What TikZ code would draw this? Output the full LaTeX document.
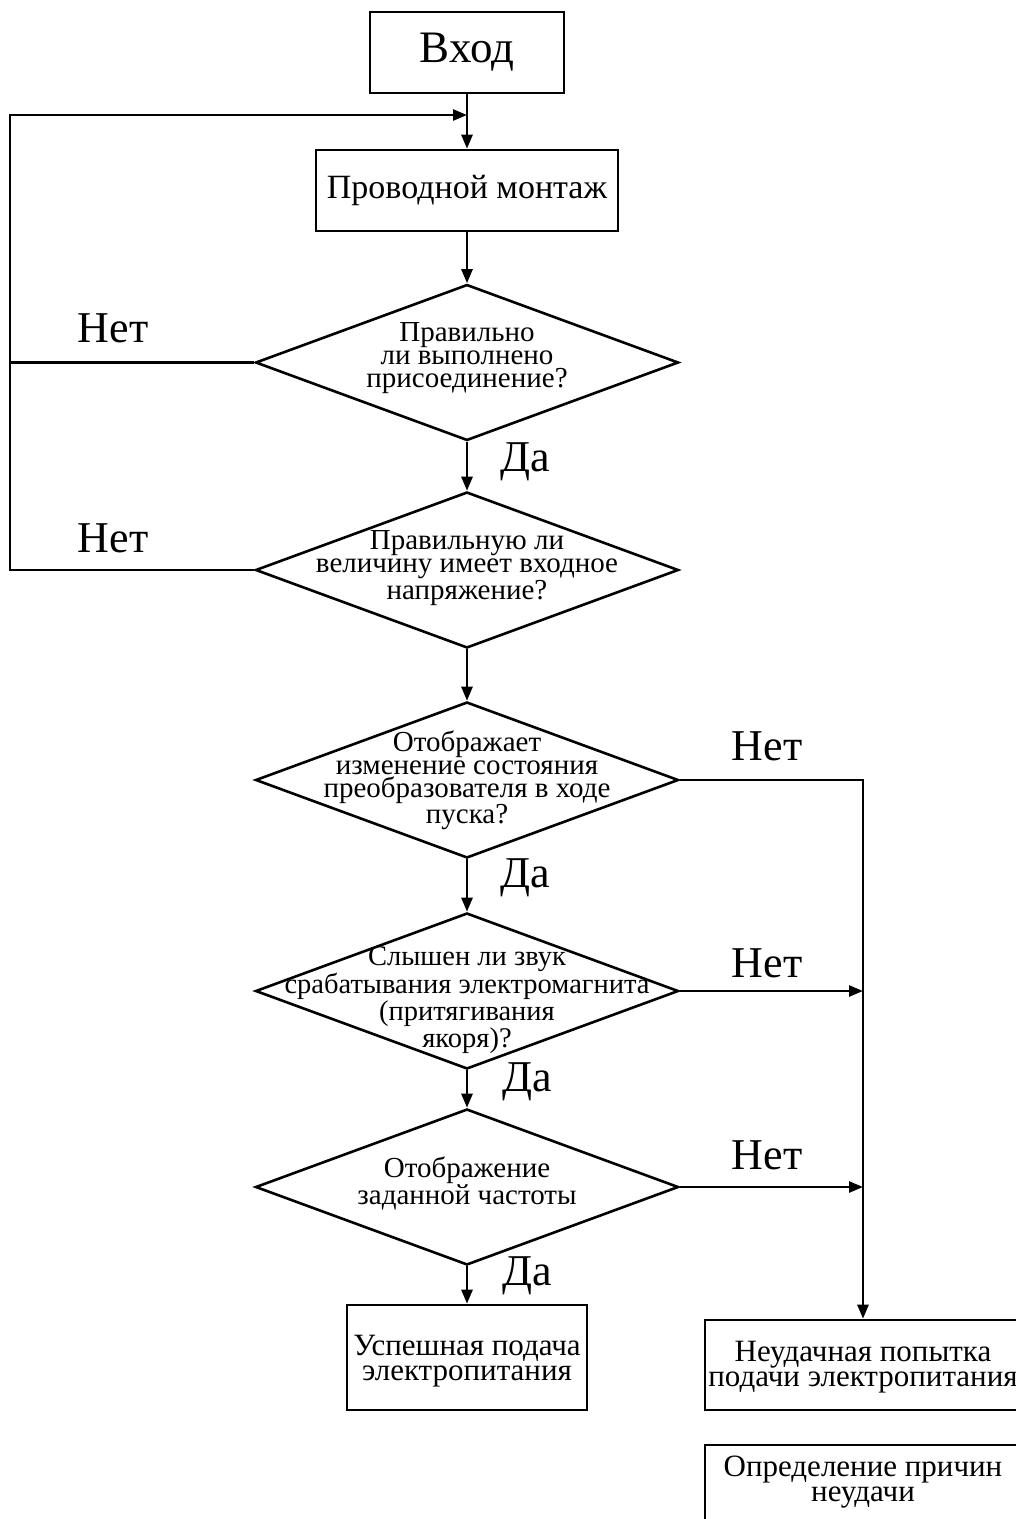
\documentclass[tikz,border=0pt]{standalone}
\usepackage{fontspec}
\setmainfont{Liberation Serif}
\usetikzlibrary{shapes.geometric,arrows.meta}
\begin{document}
\begin{tikzpicture}[x=1pt,y=-1pt,
  line width=2.6pt,
  arr/.style={-{Triangle[length=14pt,width=11pt]}},
  box/.style={draw,rectangle,inner sep=0pt},
  dia/.style={draw,diamond,inner sep=0pt,minimum width=423pt,minimum height=156pt},
  txt/.style={align=center,inner sep=0pt,font=\fontsize{29}{23}\selectfont},
  btxt/.style={align=center,inner sep=0pt,font=\fontsize{31}{25}\selectfont},
  big/.style={inner sep=0pt,font=\fontsize{44}{44}\selectfont}]
\useasboundingbox (0,0) rectangle (1016,1519);
% boxes
\node[box,minimum width=194pt,minimum height=81pt] (in) at (467,52.5) {};
\node[big,font=\fontsize{45}{45}\selectfont] at (in.center) {Вход};
\node[box,minimum width=302pt,minimum height=81pt] (wire) at (467,190.5) {};
\node[btxt,font=\fontsize{34}{34}\selectfont] at (wire.center) {Проводной монтаж};
% diamonds
\node[dia] (d1) at (467,362.5) {};
\node[txt] at (467,358) {Правильно\\ли выполнено\\присоединение?};
\node[dia] (d2) at (467,570) {};
\node[txt] at (467,568) {Правильную ли\\величину имеет входное\\напряжение?};
\node[dia] (d3) at (467,780) {};
\node[txt] at (467,780) {Отображает\\изменение состояния\\преобразователя в ходе\\пуска?};
\node[dia] (d4) at (467,991) {};
\node[txt,font=\fontsize{28.5}{23}\selectfont] at (467,1000) {Слышен ли звук\\срабатывания электромагнита\\(притягивания\\якоря)?};
\node[dia] (d5) at (467,1187) {};
\node[txt] at (467,1183) {Отображение\\заданной частоты};
% end boxes
\node[box,minimum width=240pt,minimum height=105pt] (ok) at (467,1357.5) {};
\node[btxt] at (467,1361) {Успешная подача\\электропитания};
\node[box,minimum width=316pt,minimum height=90pt] (fail) at (863,1365) {};
\node[btxt] at (863,1367) {Неудачная попытка\\подачи электропитания};
\node[box,minimum width=316pt,minimum height=100pt] (cause) at (863,1495) {};
\node[btxt] at (863,1482) {Определение причин\\неудачи};
% labels
\node[big] at (113,328) {Нет};
\node[big] at (113,538) {Нет};
\node[big] at (767,746) {Нет};
\node[big] at (767,963) {Нет};
\node[big] at (767,1155) {Нет};
\node[big] at (525,462) {Да};
\node[big] at (525,878) {Да};
\node[big] at (527,1082) {Да};
\node[big] at (527,1276) {Да};
% coordinates
\coordinate (j) at (467,115);
\coordinate (lt) at (10,115);
\coordinate (l1) at (10,362.5);
\coordinate (l2) at (10,570);
\coordinate (r3) at (863,780);
\coordinate (r4) at (863,991);
\coordinate (r5) at (863,1187);
% connectors
\draw[arr] (in.south) -- (wire.north);
\draw[arr] (wire.south) -- (d1.north);
\draw[arr] (d1.south) -- (d2.north);
\draw[arr] (d2.south) -- (d3.north);
\draw[arr] (d3.south) -- (d4.north);
\draw[arr] (d4.south) -- (d5.north);
\draw[arr] (d5.south) -- (ok.north);
\draw[arr] (d1.west) -- (l1) -- (lt) -- (j);
\draw (d2.west) -- (l2) -- (l1);
\draw[arr] (d3.east) -- (r3) -- (fail.north);
\draw[arr] (d4.east) -- (r4);
\draw[arr] (d5.east) -- (r5);
\end{tikzpicture}
\end{document}
